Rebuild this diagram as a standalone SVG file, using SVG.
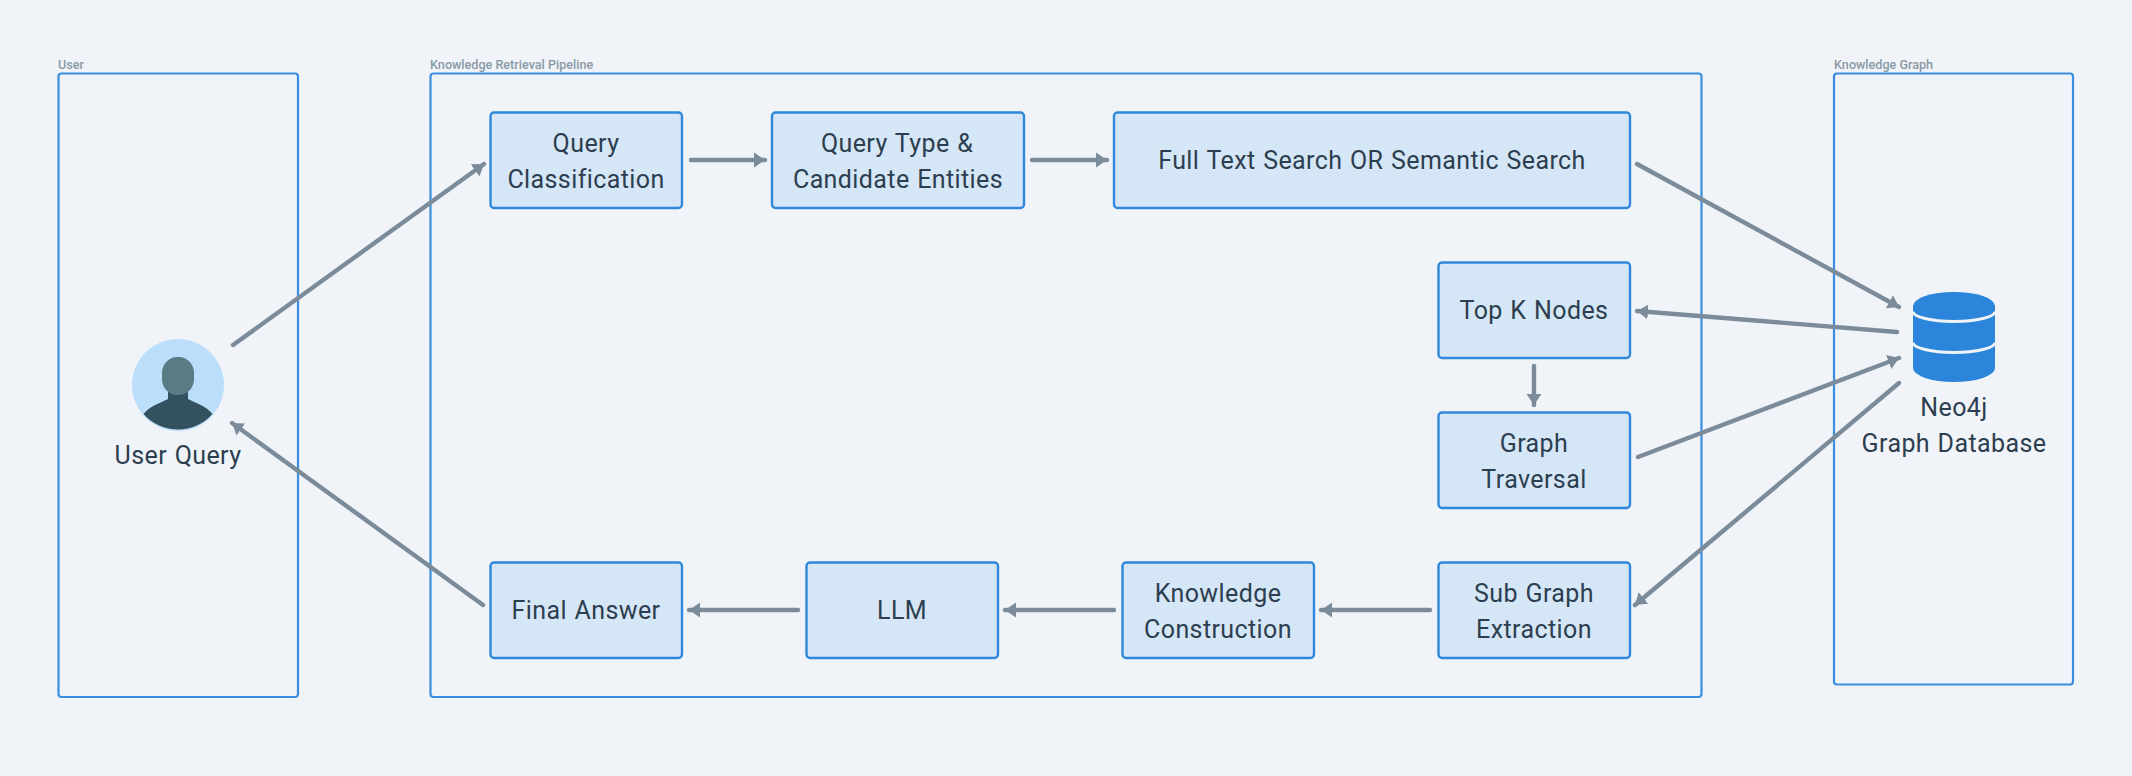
<svg xmlns="http://www.w3.org/2000/svg" width="2132" height="776" viewBox="0 0 2132 776">
<style>
text{font-family:"Roboto","Liberation Sans",sans-serif}
.grp{fill:none;stroke:#3a8ee0;stroke-width:2.2}
.glabel{font-size:12.6px;fill:#8a99a6;font-weight:500}
.box{fill:#d5e6f6;stroke:#2f88db;stroke-width:2.4}
.t{font-size:25px;fill:#2c3e50;text-anchor:middle;letter-spacing:.4px;word-spacing:1px}
.c{stroke:#7b8b9a;stroke-width:4.4;fill:none;stroke-linecap:round;marker-end:url(#a)}
</style>
<defs>
<marker id="a" markerUnits="userSpaceOnUse" markerWidth="13" markerHeight="16" refX="11" refY="8" orient="auto">
<path d="M0,0.500 L11,8 L0,15.500 Z" fill="#7b8b9a"/>
</marker>
</defs>
<rect width="2132" height="776" fill="#f0f4f8"/>
<g id="group-user"><rect class="grp" x="58.500" y="73.500" width="239.500" height="623.500" rx="3"/><text class="glabel" x="58" y="69">User</text></g>
<g id="group-pipeline"><rect class="grp" x="430.500" y="73.500" width="1271" height="623.500" rx="3"/><text class="glabel" x="430" y="69">Knowledge Retrieval Pipeline</text></g>
<g id="group-kg"><rect class="grp" x="1834" y="73.500" width="239" height="611" rx="3"/><text class="glabel" x="1834" y="69">Knowledge Graph</text></g>
<g id="connectors">
<line class="c" x1="233" y1="345" x2="484" y2="164"/>
<line class="c" x1="483" y1="605" x2="232" y2="423"/>
<line class="c" x1="691" y1="160" x2="765" y2="160"/>
<line class="c" x1="1032" y1="160" x2="1107" y2="160"/>
<line class="c" x1="1637" y1="164" x2="1899" y2="307"/>
<line class="c" x1="1897" y1="332" x2="1637" y2="311"/>
<line class="c" x1="1534" y1="366" x2="1534" y2="405"/>
<line class="c" x1="1638" y1="457" x2="1899" y2="358"/>
<line class="c" x1="1899" y1="383" x2="1635" y2="605"/>
<line class="c" x1="1430" y1="610" x2="1321" y2="610"/>
<line class="c" x1="1114" y1="610" x2="1005" y2="610"/>
<line class="c" x1="798" y1="610" x2="689" y2="610"/>
</g>
<g id="user-query">
<circle cx="178" cy="385" r="46" fill="#bbdefb"/>
<path d="M143.500,414 C150,406 160,403 168,399 L168,385 L188,385 L188,399 C196,403 206,406 212.500,414 A46,46 0 0 1 143.500,414 Z" fill="#34515f"/>
<rect x="162" y="357" width="32" height="38" rx="15" ry="16" fill="#5a7a84"/>
<text class="t" x="178" y="463.500">User Query</text>
</g>
<g id="query-classification"><rect class="box" x="490.500" y="112.500" width="191.500" height="95.500" rx="3.500"/><text class="t" x="586" y="151.500">Query</text><text class="t" x="586" y="187.500">Classification</text></g>
<g id="query-type"><rect class="box" x="772" y="112.500" width="252" height="95.500" rx="3.500"/><text class="t" x="897" y="151.500">Query Type &amp;</text><text class="t" x="898" y="187.500">Candidate Entities</text></g>
<g id="search"><rect class="box" x="1114" y="112.500" width="516" height="95.500" rx="3.500"/><text class="t" x="1372" y="168.500">Full Text Search OR Semantic Search</text></g>
<g id="top-k"><rect class="box" x="1438.500" y="262.500" width="191.500" height="95.500" rx="3.500"/><text class="t" x="1534" y="319">Top K Nodes</text></g>
<g id="graph-traversal"><rect class="box" x="1438.500" y="412.500" width="191.500" height="95.500" rx="3.500"/><text class="t" x="1534" y="451.500">Graph</text><text class="t" x="1534" y="487.500">Traversal</text></g>
<g id="sub-graph"><rect class="box" x="1438.500" y="562.500" width="191.500" height="95.500" rx="3.500"/><text class="t" x="1534" y="601.500">Sub Graph</text><text class="t" x="1534" y="637.500">Extraction</text></g>
<g id="knowledge-construction"><rect class="box" x="1122.500" y="562.500" width="191.500" height="95.500" rx="3.500"/><text class="t" x="1218" y="601.500">Knowledge</text><text class="t" x="1218" y="637.500">Construction</text></g>
<g id="llm"><rect class="box" x="806.500" y="562.500" width="191.500" height="95.500" rx="3.500"/><text class="t" x="902" y="619">LLM</text></g>
<g id="final-answer"><rect class="box" x="490.500" y="562.500" width="191.500" height="95.500" rx="3.500"/><text class="t" x="586" y="619">Final Answer</text></g>
<g id="neo4j">
<path d="M1913,306 A41,14 0 0 1 1995,306 L1995,368 A41,14 0 0 1 1913,368 Z" fill="#2b86db"/>
<path d="M1913,311.500 A41,10 0 0 0 1995,311.500 M1913,342.500 A41,10 0 0 0 1995,342.500" fill="none" stroke="#f0f4f8" stroke-width="3"/>
<text class="t" x="1954" y="416">Neo4j</text>
<text class="t" x="1954" y="452">Graph Database</text>
</g>
</svg>
